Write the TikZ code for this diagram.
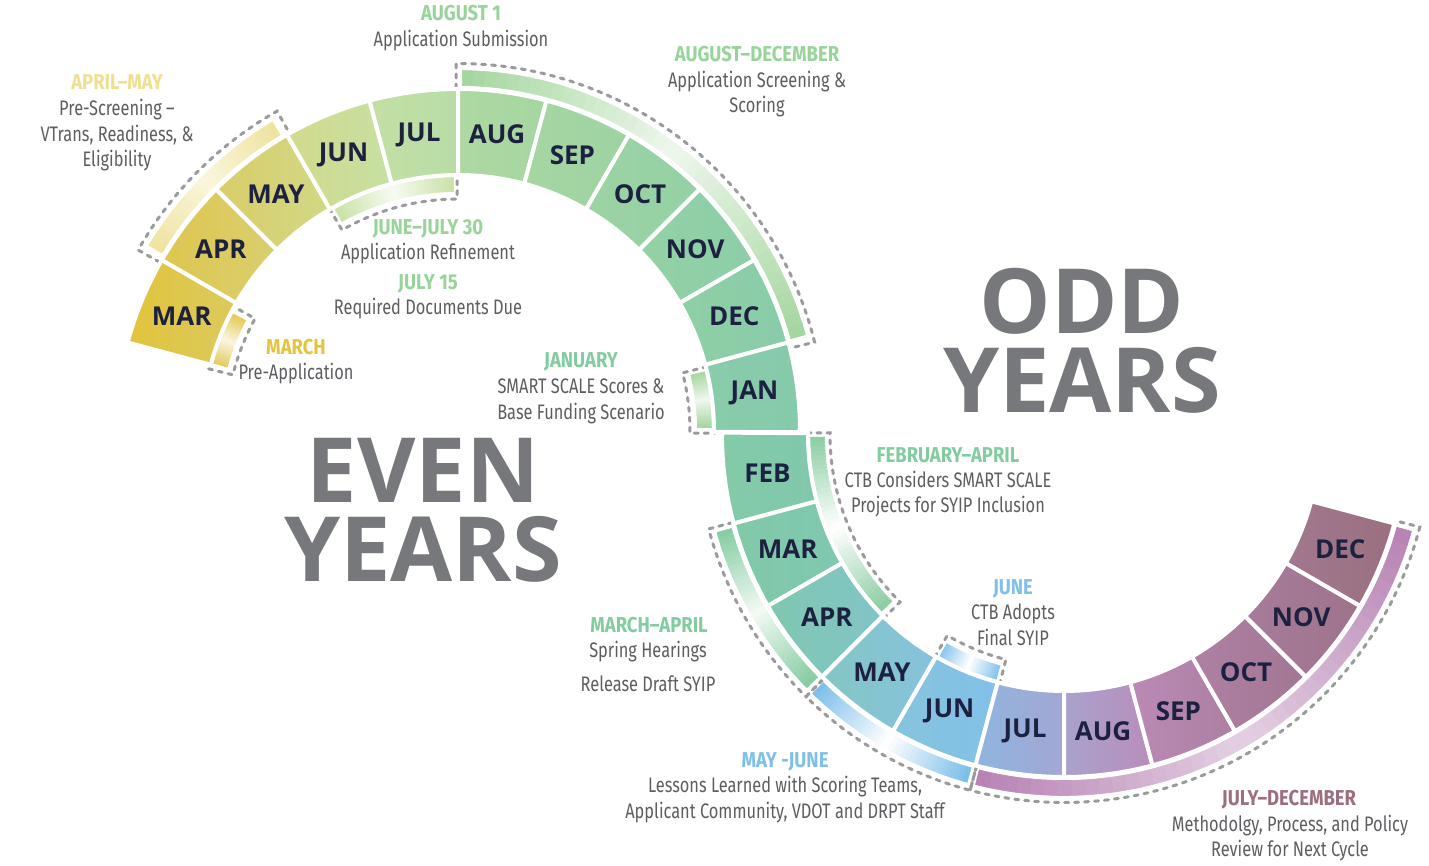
\documentclass[tikz,border=0pt]{standalone}
\usepackage{fontspec}
\newfontfamily\bodyf{Fira Sans}[FakeStretch=0.78]
\newfontfamily\headf{Fira Sans}[FakeStretch=0.86]
\newfontfamily\monf{Open Sans}
\definecolor{navy}{HTML}{1C2140}
\definecolor{txtgray}{HTML}{5D5E61}
\definecolor{biggray}{HTML}{77787B}
\definecolor{dashgray}{HTML}{9A9B9D}
\definecolor{hgreen}{HTML}{98D49A}
\definecolor{hgreen2}{HTML}{82CDA0}
\definecolor{hyellow}{HTML}{EFE08F}
\definecolor{hgold}{HTML}{E6C33C}
\definecolor{hblue}{HTML}{7FC0EA}
\definecolor{hmauve}{HTML}{9D6D80}
\tikzset{
  seg/.style={draw=white, line width=4pt},
  mon/.style={font=\monf\bfseries\fontsize{26}{26}\selectfont, text=navy, inner sep=0pt},
  body/.style={font=\bodyf\fontsize{21}{25}\selectfont, text=txtgray, anchor=base, inner sep=0pt},
  head/.style={font=\headf\bfseries\fontsize{21.5}{25}\selectfont, anchor=base, inner sep=0pt},
  big/.style={font=\monf\bfseries\fontsize{90}{79}\selectfont, text=biggray, anchor=north, inner sep=0pt, align=center},
  dsh/.style={draw=dashgray, line width=3pt, dash pattern=on 4pt off 6pt, line cap=round},
}
% gradient band: rin rout a1 a2 endcolor midcolor
\newcommand\gband[6]{%
  \definecolor{bE}{HTML}{#5}\definecolor{bM}{HTML}{#6}%
  \foreach \k in {0,...,39}{%
    \pgfmathsetmacro\ta{#3+(#4-#3)*\k/40}%
    \pgfmathsetmacro\tb{#3+(#4-#3)*(\k+1)/40}%
    \pgfmathtruncatemacro\pp{abs(\k-19.5)/19.5*100}%
    \filldraw[fill=bE!\pp!bM, draw=bE!\pp!bM, line width=0.6pt]
      (\ta:#1) arc[start angle=\ta, end angle=\tb, radius=#1]
      -- (\tb:#2) arc[start angle=\tb, end angle=\ta, radius=#2] -- cycle;
  }}
\begin{document}
\begin{tikzpicture}[x=1pt,y=1pt]
\fill[white] (0,0) rectangle (1429,865);
\useasboundingbox (0,0) rectangle (1429,865);

% ---------- upper ring (even years) ----------
\begin{scope}[shift={(458,434)}]
  % bands
  \gband{345.5}{360.5}{149}{121}{EFE3A0}{F9F6DC}
  \draw[dsh] (150.5:343) -- (150.5:367.5) arc[start angle=150.5, end angle=119.5, radius=367.5] -- (119.5:343);
  \gband{239.5}{253.5}{164.5}{152.5}{E6CB5C}{FBF6E0}
  \draw[dsh] (166:257) -- (166:232) arc[start angle=166, end angle=151, radius=232] -- (151:257);
  \gband{239.5}{253.5}{119}{91}{C9E2A8}{F7FBF2}
  \draw[dsh] (120:257) -- (120:232) arc[start angle=120, end angle=90.2, radius=232] -- (90.2:257);
  \gband{345.5}{360.5}{89.3}{15.5}{A6D6A0}{EEF7EC}
  \draw[dsh] (90.3:343) -- (90.3:367.5) arc[start angle=90.3, end angle=14, radius=367.5] -- (14:343);
  \gband{239.5}{253.5}{13.5}{0.8}{A6D7A0}{F0F8EE}
  \draw[dsh] (14.5:257) -- (14.5:232) arc[start angle=14.5, end angle=-0.5, radius=232] -- (-0.5:257);
  % months
  \foreach \a/\b/\lc/\rc/\lab/\nm in {
    165/150/E1C43C/DCCA5E/MAR/umar,
    150/135/DEC650/D9CF6F/APR/uapr,
    135/120/D9CD68/D2D886/MAY/umay,
    120/105/D2DA8C/C6E0A3/JUN/ujun,
    105/90/C3E0A5/B8DCA6/JUL/ujul,
    90/75/ADD8A2/A6D6A2/AUG/uaug,
    75/60/A6D6A2/9DD3A2/SEP/usep,
    60/45/9CD3A3/94D1A5/OCT/uoct,
    45/30/94D1A5/8CCEA8/NOV/unov,
    30/15/90CFA6/88CCA9/DEC/udec,
    15/-0.2/8ACCAA/84CAAB/JAN/ujan}{
    \definecolor{lc}{HTML}{\lc}\definecolor{rc}{HTML}{\rc}
    \shadedraw[seg, left color=lc, right color=rc]
      (\a:256) -- (\a:342) arc[start angle=\a, end angle=\b, radius=342]
      -- (\b:256) arc[start angle=\b, end angle=\a, radius=256] -- cycle;
    \pgfmathsetmacro\m{(\a+\b)/2}
    \node[mon] (\nm) at (\m:299) {\lab};
  }
\end{scope}

% ---------- lower ring (odd years) ----------
\begin{scope}[shift={(1064,430)}]
  \gband{239.5}{253.5}{180.5}{224}{8DCEA3}{FFFFFF}
  \draw[dsh] (179.5:257) -- (179.5:234) arc[start angle=179.5, end angle=225.5, radius=234] -- (225.5:257);
  \gband{345.5}{360.5}{195.7}{224.5}{86CDA2}{F2FAF4}
  \draw[dsh] (194.8:343) -- (194.8:367.5) arc[start angle=194.8, end angle=225.4, radius=367.5] -- (225.4:343);
  \gband{345.5}{360.5}{225.8}{254.4}{7DBFEA}{FFFFFF}
  \draw[dsh] (225.4:343) -- (225.4:367.5) arc[start angle=225.4, end angle=255.2, radius=367.5] -- (255.2:343);
  \gband{239.5}{253.5}{240.7}{254.5}{8AC6EE}{FFFFFF}
  \draw[dsh] (239.8:257) -- (239.8:232) arc[start angle=239.8, end angle=255.5, radius=232] -- (255.5:257);
  \gband{345.5}{360.5}{255.8}{344.5}{B883B5}{E4D0E2}
  \draw[dsh] (255.2:343) -- (255.2:367.5) arc[start angle=255.2, end angle=345.5, radius=367.5] -- (345.5:343);
  \foreach \a/\b/\lc/\rc/\lab/\nm in {
    179.6/195/84CAA9/80C8AC/FEB/lfeb,
    195/210/82C9A9/7FC7B0/MAR/lmar,
    210/225/80C7B0/82C4C8/APR/lapr,
    225/240/84C6C4/86C2DE/MAY/lmay,
    240/255/86C4DC/82C0E8/JUN/ljun,
    255/270/8FB5E0/A2A7D2/JUL/ljul,
    270/285/A9A2CC/B98DBB/AUG/laug,
    285/300/BA8AB6/AD7FA2/SEP/lsep,
    300/315/AE80A4/A37793/OCT/loct,
    315/330/A77C9C/9F7389/NOV/lnov,
    330/345/A27890/9A6F7F/DEC/ldec}{
    \definecolor{lc}{HTML}{\lc}\definecolor{rc}{HTML}{\rc}
    \shadedraw[seg, left color=lc, right color=rc]
      (\a:256) -- (\a:342) arc[start angle=\a, end angle=\b, radius=342]
      -- (\b:256) arc[start angle=\b, end angle=\a, radius=256] -- cycle;
    \pgfmathsetmacro\m{(\a+\b)/2}
    \node[mon] (\nm) at (\m:299) {\lab};
  }
\end{scope}

% ---------- big titles ----------
\node[big] (odd) at (1082,597) {ODD\\YEARS};
\node[big] (even) at (423,427) {EVEN\\YEARS};

% ---------- labels ----------
\node[head, text=hgreen] (t1h) at (461,844.5) {AUGUST 1};
\node[body] (t1a) at (461,818.5) {Application Submission};

\node[head, text=hyellow] (t2h) at (117,775) {APRIL–MAY};
\node[body] (t2a) at (117,749) {Pre-Screening –};
\node[body] (t2b) at (117,723) {VTrans, Readiness, \&};
\node[body] (t2c) at (117,698) {Eligibility};

\node[head, text=hgreen] (t3h) at (757,803) {AUGUST–DECEMBER};
\node[body] (t3a) at (757,777) {Application Screening \&};
\node[body] (t3b) at (757,752) {Scoring};

\node[head, text=hgreen] (t4h) at (428,630) {JUNE–JULY 30};
\node[body] (t4a) at (428,605) {Application Refinement};
\node[head, text=hgreen] (t4c) at (428,575) {JULY 15};
\node[body] (t4d) at (428,550) {Required Documents Due};

\node[head, text=hgold] (t5h) at (296,510) {MARCH};
\node[body] (t5a) at (296,485) {Pre-Application};

\node[head, text=hgreen2] (t6h) at (581,497) {JANUARY};
\node[body] (t6a) at (581,471) {SMART SCALE Scores \&};
\node[body] (t6b) at (581,445) {Base Funding Scenario};

\node[head, text=hgreen2] (t7h) at (948,402) {FEBRUARY–APRIL};
\node[body] (t7a) at (948,377) {CTB Considers SMART SCALE};
\node[body] (t7b) at (948,352) {Projects for SYIP Inclusion};

\node[head, text=hgreen2] (t8h) at (649,232) {MARCH–APRIL};
\node[body] (t8a) at (648,207) {Spring Hearings};
\node[body] (t8b) at (648,173) {Release Draft SYIP};

\node[head, text=hblue] (t9h) at (1013,270) {JUNE};
\node[body] (t9a) at (1013,245) {CTB Adopts};
\node[body] (t9b) at (1013,219) {Final SYIP};

\node[head, text=hblue] (t10h) at (785,98) {MAY -JUNE};
\node[body] (t10a) at (785,73) {Lessons Learned with Scoring Teams,};
\node[body] (t10b) at (785,47) {Applicant Community, VDOT and DRPT Staff};

\node[head, text=hmauve] (t11h) at (1289,60) {JULY–DECEMBER};
\node[body] (t11a) at (1290,34) {Methodolgy, Process, and Policy};
\node[body] (t11b) at (1290,9) {Review for Next Cycle};
\end{tikzpicture}
\end{document}
